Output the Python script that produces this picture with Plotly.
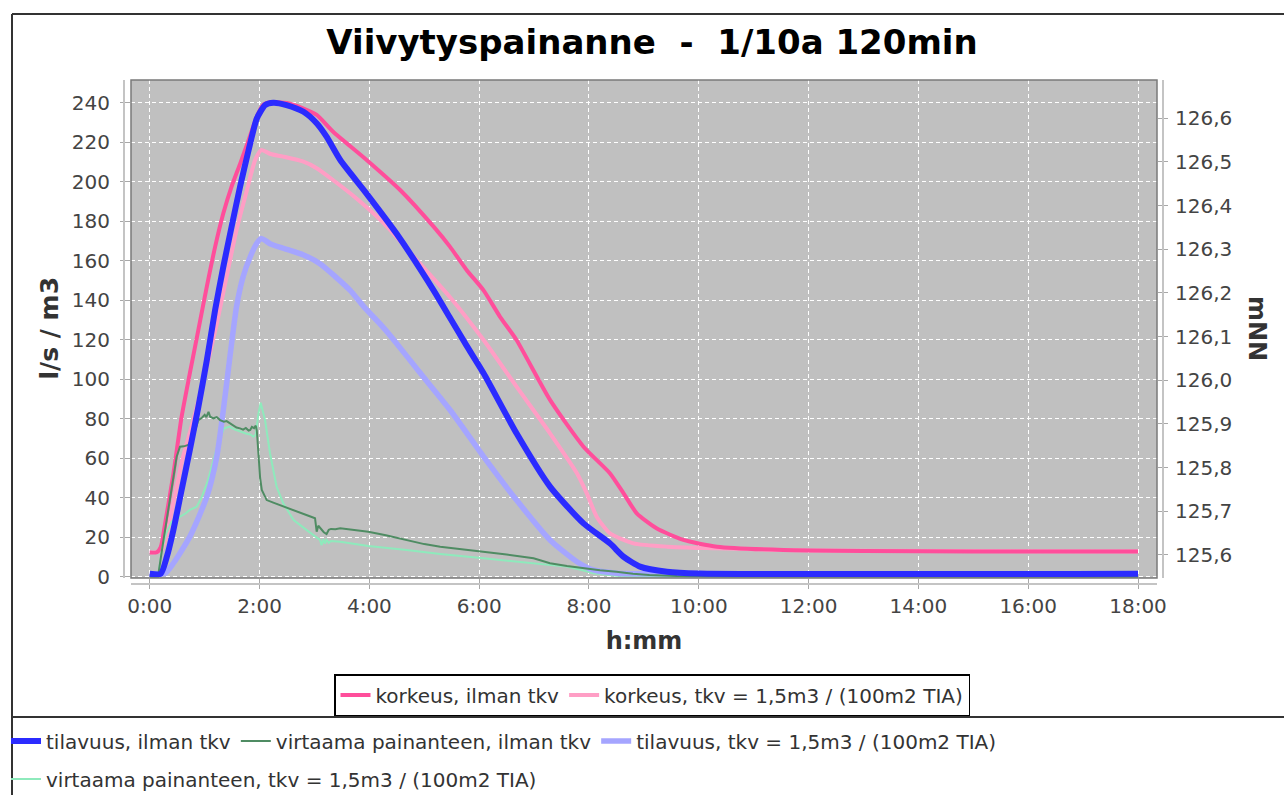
import plotly.graph_objects as go

# ---------------- data (time in hours) ----------------
# korkeus, ilman tkv  (water level, mNN, right axis)
k1_t = [0.0, 0.13, 0.2, 0.28, 0.43, 0.58, 0.73, 0.885, 1.04, 1.19, 1.34, 1.49, 1.645, 1.80,
        1.95, 2.07, 2.2, 2.5, 2.8, 3.04, 3.34, 3.95, 4.56, 5.17, 5.47, 5.77, 6.08, 6.38, 6.68,
        7.29, 7.90, 8.38, 8.63, 8.87, 9.23, 9.72, 10.33, 11.54, 13.0, 15.0, 18.0]
k1_h = [125.6055, 125.6064, 125.6181, 125.6724, 125.7855, 125.9167, 126.0162, 126.1157,
        126.2152, 126.3056, 126.3825, 126.4436, 126.4956, 126.5499, 126.6042, 126.6313,
        126.6372, 126.6349, 126.6222, 126.6078, 126.5693, 126.5047, 126.4359, 126.3518,
        126.3056, 126.2527, 126.2061, 126.1455, 126.0922, 125.9551, 125.8479, 125.7873,
        125.7412, 125.6955, 125.6611, 125.6344, 125.6191, 125.6114, 125.6091, 125.6082,
        125.6077]

# korkeus, tkv = 1,5m3 / (100m2 TIA)
k2_t = [0.0, 0.2, 0.3, 0.45, 0.6, 0.8, 0.98, 1.22, 1.40, 1.58, 1.77, 1.92, 2.03, 2.2, 2.43,
        2.80, 3.04, 3.65, 4.26, 4.86, 5.47, 6.08, 6.68, 7.29, 7.78, 7.96, 8.14, 8.38, 8.81,
        9.42, 10.3, 12.0, 18.0]
k2_h = [125.6055, 125.6091, 125.6408, 125.7312, 125.8217, 125.9121, 126.0008, 126.1292,
        126.2378, 126.3441, 126.4359, 126.5047, 126.5273, 126.5182, 126.5123, 126.5006,
        126.4856, 126.4282, 126.3599, 126.2758, 126.1903, 126.0922, 125.9854, 125.8787,
        125.7873, 125.7412, 125.6878, 125.6498, 125.6267, 125.6191, 125.6154, 125.6100,
        125.6077]

# tilavuus, ilman tkv (m3, left axis)
t1_t = [0, 0.2, 0.31, 0.43, 0.58, 0.73, 0.885, 1.04, 1.19, 1.34, 1.49, 1.645, 1.80, 1.95,
        2.10, 2.25, 2.49, 2.80, 3.04, 3.22, 3.47, 3.92, 4.50, 5.17, 5.47, 5.77, 6.08, 6.68,
        7.29, 7.90, 8.38, 8.63, 8.93, 9.42, 10.0, 18.0]
t1_v = [1.5, 1.5, 10, 23.6, 43.9, 64.2, 86, 109.7, 135, 157, 177.2, 197.5, 216, 232, 238.8,
        240, 238.8, 235.4, 229.6, 222.8, 211, 195, 173.5, 145, 131, 117, 103, 72.6, 45.6,
        27, 16.9, 10.1, 5.1, 2.5, 1.6, 1.5]

# tilavuus, tkv = 1,5m3 / (100m2 TIA)
t2_t = [0, 0.28, 0.43, 0.73, 1.04, 1.22, 1.34, 1.46, 1.58, 1.70, 1.83, 1.95, 2.03, 2.2,
        2.43, 2.80, 3.10, 3.65, 3.89, 4.26, 4.5, 4.9, 5.47, 6.08, 6.68, 7.29, 7.78, 8.08,
        8.5, 9.0, 18.0]
t2_v = [1.5, 1.7, 6.8, 20.3, 40.5, 60.8, 84.4, 111.4, 136.7, 151.9, 162, 168.8, 171.3,
        168.5, 166.3, 162.9, 158.5, 145, 137, 126, 118, 104, 84.4, 60.8, 38.8, 18.6, 7.6,
        3.4, 1.8, 1.5, 1.5]

# virtaama painanteen, ilman tkv (l/s, left axis)
v1_t = [0, 0.15, 0.25, 0.37, 0.49, 0.55, 0.62, 0.70, 0.79, 0.885, 0.95, 1.0, 1.03, 1.07,
        1.10, 1.16, 1.22, 1.28, 1.35, 1.40, 1.46, 1.52, 1.58, 1.645, 1.70, 1.75, 1.80, 1.83,
        1.86, 1.90, 1.93, 1.95, 1.97, 1.98, 2.01, 2.04, 2.10, 2.13, 2.25, 2.37, 2.43, 2.5,
        2.62, 2.68, 2.75, 2.86, 2.95, 3.01, 3.03, 3.04, 3.07, 3.12, 3.17, 3.22, 3.26, 3.30,
        3.38, 3.47, 3.6, 3.75, 3.98, 4.3, 4.68, 5.0, 5.29, 5.6, 6.08, 6.5, 6.99, 7.29, 7.6,
        7.90, 8.2, 8.5, 8.8, 9.1, 9.6, 10.5, 18.0]
v1_v = [0, 0, 18.6, 40.5, 60.8, 65.8, 66, 66.7, 70.9, 79.3, 80.5, 82, 80.8, 83.5, 81, 80.2,
        80.8, 79.3, 78.5, 78.8, 77.7, 76.8, 75.5, 75.1, 74.5, 75.3, 74, 74.3, 75.9, 75.2,
        76.5, 74, 65, 60.8, 50, 43.9, 41, 38.8, 37.5, 36.3, 35.8, 35, 33.8, 33, 32.6, 31.5,
        30.2, 29.6, 26, 22.8, 25.8, 24.2, 22.5, 21.6, 23.8, 24.2, 24, 24.5, 24, 23.5, 22.8,
        21, 18.6, 16.5, 15.2, 14.2, 12.7, 11.2, 9.3, 6.8, 5.4, 4.3, 3.3, 2.5, 1.5, 0.9, 0.4,
        0.1, 0]

# virtaama painanteen, tkv = 1,5m3 / (100m2 TIA)
v2_t = [0, 0.15, 0.22, 0.3, 0.4, 0.55, 0.65, 0.73, 0.855, 0.95, 1.05, 1.15, 1.25, 1.35,
        1.45, 1.55, 1.645, 1.75, 1.83, 1.89, 1.93, 1.98, 2.02, 2.06, 2.10, 2.19, 2.31, 2.43,
        2.62, 2.86, 3.00, 3.10, 3.13, 3.16, 3.19, 3.22, 3.26, 3.30, 3.47, 3.98, 4.68, 5.29,
        6.08, 6.99, 7.59, 7.85, 8.08, 8.5, 9.0, 18.0]
v2_v = [0, 0, 13.5, 22, 28, 30.4, 32, 33.8, 35.4, 40.5, 48, 58, 68, 75, 76, 74.5, 73.5,
        72.5, 72, 70.9, 72, 82.7, 88.1, 84, 79.3, 62.5, 45.6, 37.2, 28.7, 23.6, 20.5, 18.6,
        16, 19, 16.8, 18.6, 17.2, 18.1, 17.7, 15.5, 13.5, 11.5, 9.3, 6.8, 5.1, 3.5, 1.7,
        0.5, 0.1, 0]

x_tickvals = [0, 2, 4, 6, 8, 10, 12, 14, 16, 18]
x_ticktext = ["0:00", "2:00", "4:00", "6:00", "8:00", "10:00", "12:00", "14:00", "16:00", "18:00"]
h_tickvals = [125.6, 125.7, 125.8, 125.9, 126.0, 126.1, 126.2, 126.3, 126.4, 126.5, 126.6]

names = {
    "k1": "korkeus, ilman tkv",
    "k2": "korkeus, tkv = 1,5m3 / (100m2 TIA)",
    "t1": "tilavuus, ilman tkv",
    "v1": "virtaama painanteen, ilman tkv",
    "t2": "tilavuus, tkv = 1,5m3 / (100m2 TIA)",
    "v2": "virtaama painanteen, tkv = 1,5m3 / (100m2 TIA)",
}

# ---------------- figure ----------------
W, H = 1284, 795
L, R, T, B = 131, 127, 80, 217
PW, PH = W - L - R, H - T - B


def px(x):
    return (x - L) / PW


def py(y):
    return (H - B - y) / PH


fig = go.Figure()

smooth = dict(shape="spline", smoothing=0.6)
# korkeus traces on the right-hand axis (drawn underneath)
fig.add_trace(go.Scatter(x=k2_t, y=k2_h, name=names["k2"], mode="lines", yaxis="y",
                         line=dict(color="#FF9EC5", width=4, **smooth),
                         legend="legend", legendrank=2))
fig.add_trace(go.Scatter(x=k1_t, y=k1_h, name=names["k1"], mode="lines", yaxis="y",
                         line=dict(color="#FF4E9B", width=4, **smooth),
                         legend="legend", legendrank=1))
# volume / flow traces on the left-hand axis (drawn on top)
fig.add_trace(go.Scatter(x=v2_t, y=v2_v, name=names["v2"], mode="lines", yaxis="y2",
                         line=dict(color="#8EEABC", width=2), legend="legend3", legendrank=1))
fig.add_trace(go.Scatter(x=t2_t, y=t2_v, name=names["t2"], mode="lines", yaxis="y2",
                         line=dict(color="#A5A5FF", width=5.5, **smooth),
                         legend="legend2", legendrank=3))
fig.add_trace(go.Scatter(x=v1_t, y=v1_v, name=names["v1"], mode="lines", yaxis="y2",
                         line=dict(color="#4F8C63", width=2), legend="legend2", legendrank=2))
fig.add_trace(go.Scatter(x=t1_t, y=t1_v, name=names["t1"], mode="lines", yaxis="y2",
                         line=dict(color="#2B2BFF", width=6, **smooth),
                         legend="legend2", legendrank=1))

grid = dict(showgrid=True, gridcolor="white", gridwidth=1, griddash="4px,3px")
tickfont = dict(family="DejaVu Sans", size=20, color="#444444")
titlefont = dict(family="DejaVu Sans", size=24, color="#333333", weight="bold")

fig.update_layout(
    width=W, height=H,
    margin=dict(l=L, r=R, t=T, b=B),
    paper_bgcolor="white", plot_bgcolor="#C0C0C0",
    separators=", ",
    font=dict(family="DejaVu Sans", size=20, color="#444444"),
    title=dict(text="Viivytyspainanne \u00a0-\u00a0 1/10a 120min", xref="container", yref="container",
               x=652 / W, xanchor="center", y=1 - 42 / H, yanchor="middle",
               font=dict(family="DejaVu Sans", size=34, color="#000000", weight="bold")),
    xaxis=dict(range=[-0.342, 18.346], tickvals=x_tickvals, ticktext=x_ticktext,
               ticks="outside", ticklen=10, tickcolor="#A8A8A8", tickfont=tickfont,
               ticklabelstandoff=0, zeroline=False, showline=False,
               title=dict(text="h:mm", font=titlefont, standoff=15), **grid),
    yaxis=dict(side="right", range=[125.5473, 126.6877], tickvals=h_tickvals, tickformat=".1f",
               showgrid=False, zeroline=False, ticks="outside", ticklen=10, tickcolor="#A8A8A8",
               tickfont=tickfont, ticklabelstandoff=3),
    yaxis2=dict(side="left", overlaying="y", range=[-0.66, 251.5], tick0=0, dtick=20,
                zeroline=False, ticks="outside", ticklen=10, tickcolor="#A8A8A8",
                tickfont=tickfont, ticklabelstandoff=6, **grid),
    legend=dict(orientation="h", xref="container", x=652 / W, xanchor="center",
                yref="container", y=1 - 695 / H, yanchor="middle",
                bordercolor="#000000", borderwidth=1.5, bgcolor="white",
                font=dict(family="DejaVu Sans", size=20, color="#333333")),
    legend2=dict(orientation="h", xref="container", x=6 / W, xanchor="left",
                 yref="container", y=1 - 741 / H, yanchor="middle", bgcolor="rgba(0,0,0,0)",
                 font=dict(family="DejaVu Sans", size=20, color="#333333")),
    legend3=dict(orientation="h", xref="container", x=6 / W, xanchor="left",
                 yref="container", y=1 - 779 / H, yanchor="middle", bgcolor="rgba(0,0,0,0)",
                 font=dict(family="DejaVu Sans", size=20, color="#333333")),
    annotations=[
        dict(text="<b>l/s / m3</b>", xref="paper", yref="paper", x=px(48.5), y=py(328),
             xanchor="center", yanchor="middle", showarrow=False, textangle=-90,
             font=dict(family="DejaVu Sans", size=25, color="#333333")),
        dict(text="<b>mNN</b>", xref="paper", yref="paper", x=px(1257), y=py(328),
             xanchor="center", yanchor="middle", showarrow=False, textangle=90,
             font=dict(family="DejaVu Sans", size=24, color="#333333")),
    ],
)

shapes = [
    # plot outline
    dict(type="rect", xref="paper", yref="paper", x0=0, x1=1, y0=0, y1=1,
         line=dict(color="#7A7A7A", width=1.5), layer="above"),
    # offset axis lines
    dict(type="line", xref="paper", yref="paper", x0=px(124), x1=px(124), y0=0, y1=1,
         line=dict(color="#C4C4C4", width=2)),
    dict(type="line", xref="paper", yref="paper", x0=px(1163), x1=px(1163), y0=0, y1=1,
         line=dict(color="#C4C4C4", width=2)),
    dict(type="line", xref="paper", yref="paper", x0=0, x1=1, y0=py(584), y1=py(584),
         line=dict(color="#C4C4C4", width=2)),
    # outer frame
    dict(type="line", xref="paper", yref="paper", x0=px(12), x1=px(1290), y0=py(14), y1=py(14),
         line=dict(color="#333333", width=2)),
    dict(type="line", xref="paper", yref="paper", x0=px(12), x1=px(12), y0=py(14), y1=py(800),
         line=dict(color="#333333", width=2)),
    # second legend box top edge
    dict(type="line", xref="paper", yref="paper", x0=px(12), x1=px(1290), y0=py(717), y1=py(717),
         line=dict(color="#333333", width=2)),
]
fig.update_layout(shapes=shapes)

fig.write_html("out.html", config={"displayModeBar": False},
               post_script="document.body.style.margin='0';document.body.style.overflow='hidden';")
